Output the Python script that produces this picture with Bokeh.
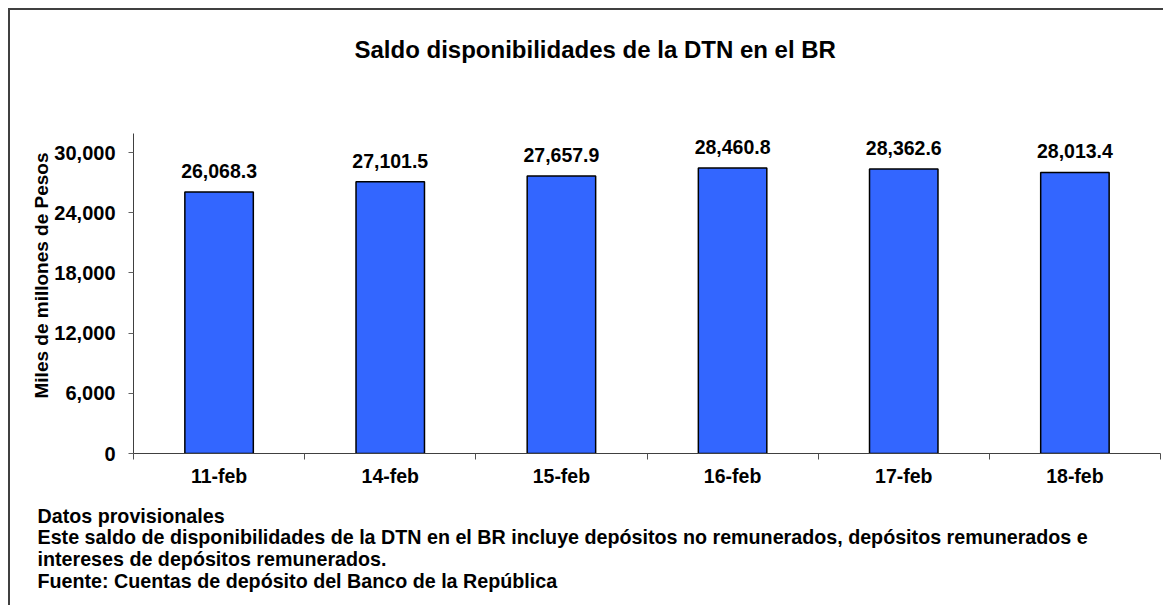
from bokeh.plotting import figure
from bokeh.models import (ColumnDataSource, FixedTicker, NumeralTickFormatter,
                          Title, Range1d)
from bokeh.core.properties import value
from bokeh.embed import file_html
from bokeh.resources import INLINE

# ---- data ----
categories = ["11-feb", "14-feb", "15-feb", "16-feb", "17-feb", "18-feb"]
saldo = [26068.3, 27101.5, 27657.9, 28460.8, 28362.6, 28013.4]
saldo_labels = ["26,068.3", "27,101.5", "27,657.9", "28,460.8", "28,362.6", "28,013.4"]
y_ticks = [0, 6000, 12000, 18000, 24000, 30000]

title_text = "Saldo disponibilidades de la DTN en el BR"
y_label_text = "Miles de millones de Pesos"
notes = [
    "Datos provisionales",
    "Este saldo de disponibilidades de la DTN en el BR incluye depósitos no remunerados, depósitos remunerados e",
    "intereses de depósitos remunerados.",
    "Fuente: Cuentas de depósito del Banco de la República",
]

FONT = "Liberation Sans"

xpos = [i + 0.5 for i in range(len(categories))]
src = ColumnDataSource(dict(x=xpos, top=saldo, label=saldo_labels))

p = figure(width=1155, height=597, output_backend="svg", toolbar_location=None,
           x_range=Range1d(0, len(categories)), y_range=Range1d(0, 31900),
           min_border_left=123, min_border_top=123, min_border_right=5,
           min_border_bottom=154, tools="")
p.styles = {"margin-left": "8px", "margin-top": "8px",
            "border-left": "2px solid #404040", "border-top": "2px solid #404040"}
p.outline_line_color = None
p.background_fill_color = "white"
p.border_fill_color = "white"
p.xgrid.visible = False
p.ygrid.visible = False

p.vbar(x="x", top="top", width=0.4, bottom=0, source=src,
       fill_color="#3366FF", line_color="black", line_width=1.5)

p.text(x="x", y="top", text="label", source=src, text_align="center",
       text_baseline="alphabetic", y_offset=-21,
       text_font=value(FONT), text_font_style="bold", text_font_size="19.5px",
       text_color="black")

# x axis: labels at centres, ticks at category boundaries
xa = p.xaxis[0]
xa.ticker = FixedTicker(ticks=xpos, minor_ticks=list(range(len(categories) + 1)))
xa.major_label_overrides = {x: c for x, c in zip(xpos, categories)}
xa.major_tick_line_color = None
xa.minor_tick_in = 0
xa.minor_tick_out = 6
xa.minor_tick_line_color = "#505050"
xa.axis_line_color = "#404040"
xa.major_label_standoff = 5
xa.major_label_text_font = FONT
xa.major_label_text_font_style = "bold"
xa.major_label_text_font_size = "19.5px"
xa.major_label_text_color = "black"

ya = p.yaxis[0]
ya.ticker = FixedTicker(ticks=y_ticks)
ya.formatter = NumeralTickFormatter(format="0,0")
ya.minor_tick_line_color = None
ya.major_tick_in = 0
ya.major_tick_out = 5
ya.major_tick_line_color = "#606060"
ya.axis_line_color = "#404040"
ya.major_label_standoff = 13
ya.major_label_text_font = FONT
ya.major_label_text_font_style = "bold"
ya.major_label_text_font_size = "20px"
ya.major_label_text_color = "black"

# spacer between frame and title
p.add_layout(Title(text=" ", text_font_size="10px", standoff=58), "above")

# title
p.title.text = title_text
p.title.align = "left"
p.title.offset = 221
p.title.text_font = FONT
p.title.text_font_style = "bold"
p.title.text_font_size = "24px"
p.title.text_color = "black"
p.title.standoff = 0

# y-axis label as a side title
p.add_layout(Title(text=y_label_text, align="left", offset=55, text_font=FONT,
                   text_font_style="bold", text_font_size="19px",
                   text_color="black", standoff=0), "left")

# footnotes (one block)
p.add_layout(Title(text="\n".join(notes), align="left", offset=-96, text_font=FONT,
                   text_font_style="bold", text_font_size="19.7px",
                   text_line_height=0.99, text_color="black", standoff=27), "below")

open("out.html", "w").write(file_html(p, INLINE))
